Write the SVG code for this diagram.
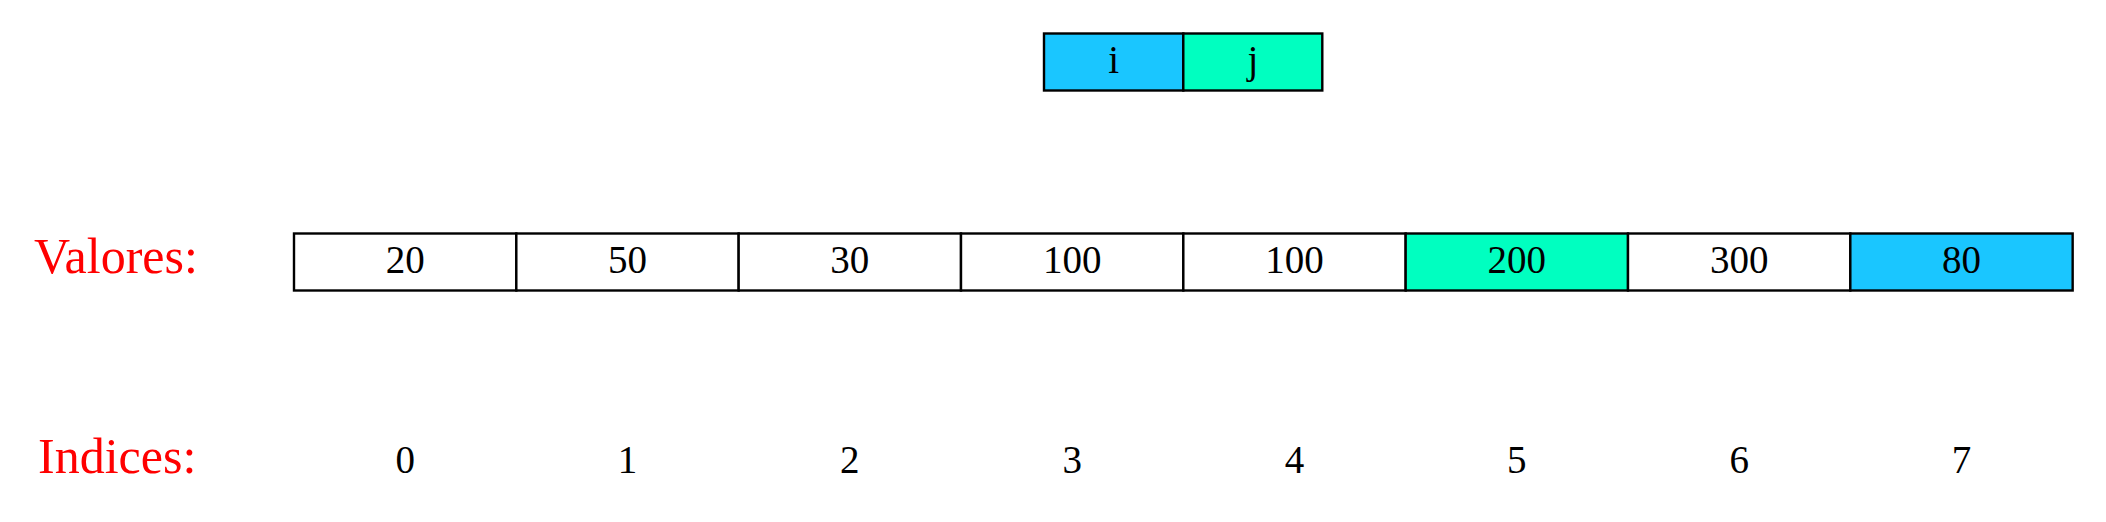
<svg xmlns="http://www.w3.org/2000/svg" width="2106" height="522" viewBox="0 0 2106 522">
  <style>
    .cell { stroke: #000; stroke-width: 2.4; }
    .w { fill: #FFFFFF; }
    .b { fill: #1AC6FF; }
    .g { fill: #00FFC0; }
    .t { font-family: "Liberation Serif", "Times New Roman", serif; font-size: 39px; fill: #000; text-anchor: middle; }
    .lbl { font-family: "Liberation Serif", "Times New Roman", serif; font-size: 50px; fill: #FF0000; }
  </style>
  <rect x="0" y="0" width="2106" height="522" fill="#FFFFFF"/>
  <g id="pointers">
    <g id="ptr-i">
      <rect class="cell b" x="1044" y="33.5" width="139.3" height="57"/>
      <text class="t" x="1113.6" y="72.7">i</text>
    </g>
    <g id="ptr-j">
      <rect class="cell g" x="1183.3" y="33.5" width="139" height="57"/>
      <text class="t" x="1252.8" y="72.7">j</text>
    </g>
  </g>
  <g id="label-valores">
    <text class="lbl" x="34" y="273.3">Valores:</text>
  </g>
  <g id="label-indices">
    <text class="lbl" x="38" y="473">Indices:</text>
  </g>
  <g id="array">
    <g id="cell-0"><rect class="cell w" x="294" y="233.5" width="222.33" height="57"/><text class="t" x="405.2" y="273.3">20</text></g>
    <g id="cell-1"><rect class="cell w" x="516.33" y="233.5" width="222.33" height="57"/><text class="t" x="627.5" y="273.3">50</text></g>
    <g id="cell-2"><rect class="cell w" x="738.66" y="233.5" width="222.33" height="57"/><text class="t" x="849.8" y="273.3">30</text></g>
    <g id="cell-3"><rect class="cell w" x="961" y="233.5" width="222.33" height="57"/><text class="t" x="1072.2" y="273.3">100</text></g>
    <g id="cell-4"><rect class="cell w" x="1183.33" y="233.5" width="222.33" height="57"/><text class="t" x="1294.5" y="273.3">100</text></g>
    <g id="cell-5"><rect class="cell g" x="1405.66" y="233.5" width="222.33" height="57"/><text class="t" x="1516.8" y="273.3">200</text></g>
    <g id="cell-6"><rect class="cell w" x="1628" y="233.5" width="222.33" height="57"/><text class="t" x="1739.2" y="273.3">300</text></g>
    <g id="cell-7"><rect class="cell b" x="1850.33" y="233.5" width="222.33" height="57"/><text class="t" x="1961.5" y="273.3">80</text></g>
  </g>
  <g id="indices">
    <text class="t" x="405.2" y="473">0</text>
    <text class="t" x="627.5" y="473">1</text>
    <text class="t" x="849.8" y="473">2</text>
    <text class="t" x="1072.2" y="473">3</text>
    <text class="t" x="1294.5" y="473">4</text>
    <text class="t" x="1516.8" y="473">5</text>
    <text class="t" x="1739.2" y="473">6</text>
    <text class="t" x="1961.5" y="473">7</text>
  </g>
  <g id="connectors"/>
</svg>
